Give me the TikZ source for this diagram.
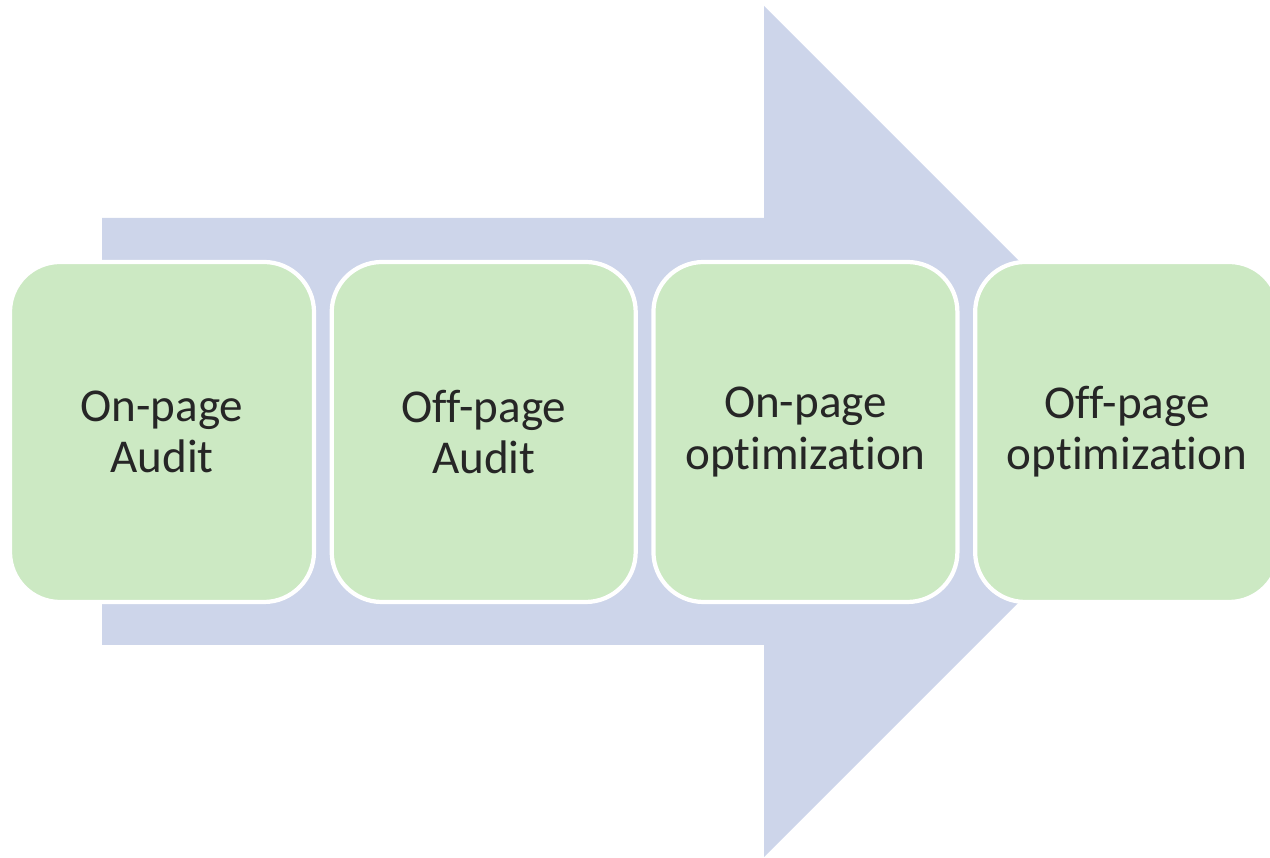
\documentclass[tikz,border=0pt]{standalone}
\usepackage{fontspec}
\setmainfont{Carlito}[Ligatures={NoCommon,NoRare,NoContextual}]
\usetikzlibrary{positioning}
\definecolor{arrowfill}{HTML}{CDD5EA}
\definecolor{stepfill}{HTML}{CCE9C3}
\definecolor{steptext}{HTML}{262626}
\tikzset{
  stepbox/.style  = {rectangle, rounded corners=0.5cm, fill=stepfill, draw=white,
                     line width=1.2pt, minimum width=3.04cm, minimum height=3.40cm,
                     align=center, text=steptext, inner sep=0pt,
                     font=\fontsize{13.4}{14.6}\selectfont},
  bigarrow/.style = {fill=arrowfill},
}

\begin{document}
\begin{tikzpicture}
  \useasboundingbox (0,0) rectangle (12.70,8.58);
  \clip (0,0) rectangle (12.70,8.58);
  % the wide arrow behind the steps
  \fill[bigarrow] (1.02,2.13) -- (7.64,2.13) -- (7.64,0.01) -- (11.895,4.265)
    -- (7.64,8.52) -- (7.64,6.40) -- (1.02,6.40) -- cycle;
  % the four steps
  \node[stepbox] (onaudit) at (1.62,4.26) {On-page\\Audit};
  \node[stepbox, right=0.135cm of onaudit] (offaudit) {Off-page\\Audit};
  \node[stepbox, right=0.135cm of offaudit] (onopt) {On-page\\optimization};
  \node[stepbox, right=0.135cm of onopt] (offopt) {Off-page\\optimization};
\end{tikzpicture}
\end{document}
